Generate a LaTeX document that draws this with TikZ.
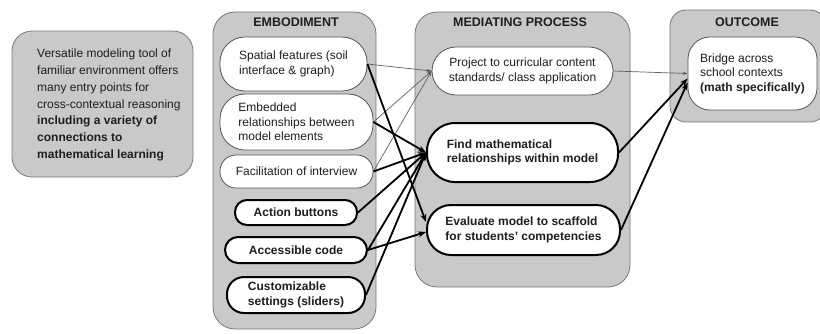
\documentclass[tikz,border=0pt]{standalone}
\usepackage{fontspec}
\setmainfont{Liberation Sans}
\newfontfamily\captionserif{Liberation Serif}
\usetikzlibrary{arrows.meta,calc}

\definecolor{panelgray}{RGB}{201,201,201}
\definecolor{panelline}{RGB}{120,120,120}
\definecolor{nodeline}{RGB}{85,85,85}
\definecolor{inkgray}{RGB}{30,30,30}
\definecolor{linkgray}{RGB}{95,95,95}

\tikzset{
  panel/.style={draw=panelline, line width=0.8pt, fill=panelgray, inner sep=0pt},
  paneltitle/.style={font=\fontsize{12.5}{14}\selectfont\bfseries, text=inkgray, inner sep=0pt},
  item/.style={draw=nodeline, line width=0.8pt, fill=white, align=left, text=inkgray,
    font=\fontsize{12}{14.5}\selectfont, inner sep=0pt},
  keyitem/.style={item, draw=black, line width=2pt, font=\fontsize{12}{14.5}\selectfont\bfseries},
  thinlink/.style={draw=linkgray, line width=0.7pt, -{Stealth[length=5pt,width=3.5pt]}},
  thicklink/.style={draw=black, line width=1.8pt, -{Stealth[length=8pt,width=6pt]}},
  capfrag/.style={font=\captionserif\fontsize{38}{38}\selectfont, anchor=base west, inner sep=0pt},
}

\begin{document}
\begin{tikzpicture}[x=1pt,y=-1pt]
\useasboundingbox (0,0) rectangle (820,333);

% fragments of the caption line above the figure (only the descenders fall on the page)
\node[capfrag] (capa) at (165,-20) {p};
\node[capfrag] (capb) at (345,-20) {pp};

% summary box
\node[panel, rounded corners=20pt, minimum width=181pt, minimum height=146pt] (introbox) at (102.5,104) {};
\node[anchor=west, align=left, inner sep=0pt, text=inkgray, font=\fontsize{12}{16.7}\selectfont] (intro) at (37,105)
  {Versatile modeling tool of\\ familiar environment offers\\ many entry points for\\ cross-contextual reasoning\\
   \textbf{including a variety of}\\ \textbf{connections to}\\ \textbf{mathematical learning}};

% column panels
\node[panel, rounded corners=22pt, minimum width=163pt, minimum height=317pt] (embpanel) at (294.5,170.5) {};
\node[panel, rounded corners=22pt, minimum width=215pt, minimum height=275pt] (medpanel) at (522.5,149.5) {};
\node[panel, rounded corners=16pt, minimum width=156pt, minimum height=112pt] (outpanel) at (748,66) {};

\node[paneltitle] (embtitle) at (296,22) {EMBODIMENT};
\node[paneltitle] (medtitle) at (520,22) {MEDIATING PROCESS};
\node[paneltitle] (outtitle) at (747,22) {OUTCOME};

% embodiment items
\node[item, rounded corners=25pt, minimum width=147pt, minimum height=54pt] (spatial) at (293.5,64)
  {Spatial features (soil\\ interface \& graph)};
\node[item, rounded corners=25pt, minimum width=153pt, minimum height=56pt] (embedded) at (296.5,122)
  {Embedded\\ relationships between\\ model elements};
\node[item, rounded corners=16pt, minimum width=153pt, minimum height=33pt] (facil) at (296.5,171.5)
  {Facilitation of interview};
\node[keyitem, rounded corners=12pt, minimum width=122pt, minimum height=25pt] (action) at (296,212.5)
  {Action buttons};
\node[keyitem, rounded corners=13pt, minimum width=142pt, minimum height=26pt] (access) at (296,250)
  {Accessible code};
\node[keyitem, rounded corners=17pt, minimum width=138pt, minimum height=36pt] (custom) at (296,295)
  {Customizable\\ settings (sliders)};

% mediating items
\node[item, rounded corners=24pt, minimum width=181pt, minimum height=48pt, align=center] (project) at (522.5,71)
  {Project to curricular content\\ standards/ class application};
\node[keyitem, rounded corners=28pt, minimum width=191pt, minimum height=59pt] (find) at (522.5,152.5)
  {Find mathematical\\ relationships within model};
\node[keyitem, rounded corners=24pt, minimum width=193pt, minimum height=50pt] (evaluate) at (523.5,230)
  {Evaluate model to scaffold\\ for students' competencies};

% outcome item
\node[item, rounded corners=22pt, minimum width=129pt, minimum height=73pt] (bridge) at (752.5,73.5)
  {Bridge across\\ school contexts\\ \textbf{(math specifically)}};

% arrival points on the receiving borders
\coordinate (evaltop) at ($(evaluate.west)+(0,-8)$);
\coordinate (evallow) at ($(evaluate.west)+(0,2)$);
\coordinate (bridgea) at ($(bridge.west)+(0,5)$);
\coordinate (bridgeb) at ($(bridge.west)+(0,9)$);

% weak links
\draw[thinlink] (spatial.east) -- (project.west);
\draw[thinlink] (embedded.east) -- (project.west);
\draw[thinlink] (facil.east) -- (project.west);
\draw[thinlink] (project.east) -- (bridge.west);

% strong links
\draw[thicklink] (spatial.east) -- (evaltop);
\draw[thicklink] (embedded.east) -- (find.west);
\draw[thicklink] (facil.east) -- (find.west);
\draw[thicklink] (action.east) -- (find.west);
\draw[thicklink] (access.east) -- (find.west);
\draw[thicklink] (access.east) -- (evallow);
\draw[thicklink] (custom.east) -- (find.west);
\draw[thicklink] (find.east) -- (bridgea);
\draw[thicklink] (evaluate.east) -- (bridgeb);
\end{tikzpicture}
\end{document}
